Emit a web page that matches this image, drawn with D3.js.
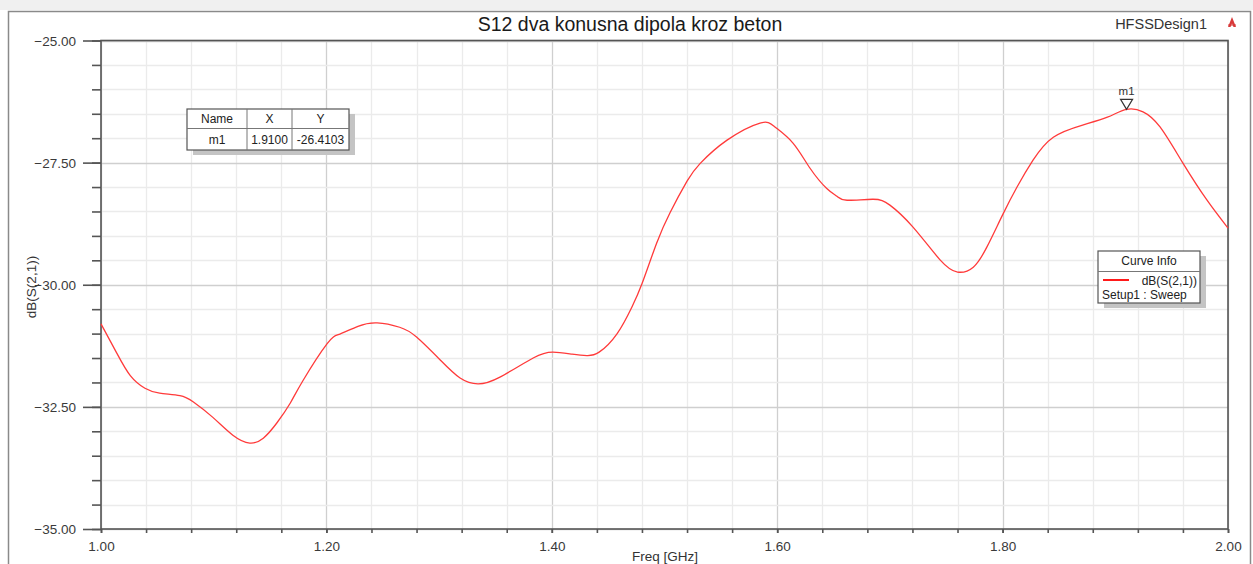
<!DOCTYPE html>
<html>
<head>
<meta charset="utf-8">
<script src="https://cdn.jsdelivr.net/npm/d3@7"></script>
<style>
  html, body { margin: 0; padding: 0; background: #ffffff; }
  svg { display: block; }
  text { font-family: "Liberation Sans", Arial, sans-serif; }
</style>
</head>
<body>
<svg id="chart" width="1253" height="564"></svg>
<script>
// S-parameter sweep, dB(S(2,1)) vs frequency
const freq = [1.000, 1.014, 1.026, 1.039, 1.052, 1.070, 1.082, 1.099, 1.117, 1.132, 1.144, 1.156, 1.168, 1.179,
  1.2005, 1.212, 1.228, 1.245, 1.265, 1.280, 1.301, 1.3186, 1.3345, 1.354, 1.3835, 1.401, 1.418, 1.431, 1.442,
  1.458, 1.471, 1.480, 1.493, 1.505, 1.520, 1.5315, 1.5555, 1.5848, 1.598, 1.614, 1.629, 1.644, 1.653, 1.662,
  1.685, 1.700, 1.7205, 1.7445, 1.760, 1.774, 1.786, 1.800, 1.8128, 1.827, 1.845, 1.871, 1.893, 1.910,
  1.9246, 1.9397, 1.960, 1.9814, 2.000];
const s21 = [-30.80, -31.40, -31.86, -32.12, -32.22, -32.27, -32.40, -32.71, -33.08, -33.24, -33.14, -32.83, -32.42, -31.97,
  -31.21, -31.01, -30.85, -30.78, -30.87, -31.07, -31.54, -31.91, -32.03, -31.89, -31.50, -31.38, -31.42, -31.45, -31.38,
  -31.00, -30.46, -29.98, -29.15, -28.52, -27.88, -27.52, -27.04, -26.69, -26.77, -27.10, -27.61, -28.03, -28.19, -28.27,
  -28.25, -28.37, -28.82, -29.49, -29.74, -29.64, -29.23, -28.57, -28.00, -27.45, -26.98, -26.73, -26.57, -26.4103,
  -26.46, -26.77, -27.51, -28.27, -28.84];

const xTicks = [1.00, 1.20, 1.40, 1.60, 1.80, 2.00];
const yTicks = [-25.00, -27.50, -30.00, -32.50, -35.00];
const markerName = "m1";
const markerX = 1.91;
const markerY = -26.4103;

const svg = d3.select("#chart");
const W = 1253, H = 564;
const plot = { left: 101, top: 40.5, right: 1228, bottom: 529 };

const x = d3.scaleLinear().domain([1.0, 2.0]).range([plot.left, plot.right]);
const y = d3.scaleLinear().domain([-35, -25]).range([plot.bottom, plot.top]);

// window background and frame
svg.append("rect").attr("x", 0).attr("y", 0).attr("width", W).attr("height", H).attr("fill", "#ffffff");
svg.append("rect").attr("x", 0).attr("y", 0).attr("width", W).attr("height", 10).attr("fill", "#f0f0f0");
svg.append("path").attr("d", `M8.5,${H} V11.5 H1250.5 V${H}`)
  .attr("fill", "none").attr("stroke", "#8a8a8a").attr("stroke-width", 1.5);

// grid
const minorX = d3.range(0, 26).map(i => 1 + i * 0.04);
const minorY = d3.range(0, 21).map(i => -35 + i * 0.5);
const grid = svg.append("g");
grid.selectAll(".gx").data(minorX).join("line")
  .attr("x1", d => Math.round(x(d)) + 0.5).attr("x2", d => Math.round(x(d)) + 0.5)
  .attr("y1", plot.top).attr("y2", plot.bottom)
  .attr("stroke", d => Math.abs((d - 1) / 0.2 - Math.round((d - 1) / 0.2)) < 1e-6 ? "#cfcfcf" : "#ebebeb")
  .attr("stroke-width", 1.3);
grid.selectAll(".gy").data(minorY).join("line")
  .attr("y1", d => Math.round(y(d)) + 0.5).attr("y2", d => Math.round(y(d)) + 0.5)
  .attr("x1", plot.left).attr("x2", plot.right)
  .attr("stroke", d => Math.abs(d / 2.5 - Math.round(d / 2.5)) < 1e-6 ? "#cfcfcf" : "#ebebeb")
  .attr("stroke-width", 1.3);

// axes
const axisColor = "#555555";
const xAxisMinor = d3.axisBottom(x).tickValues(minorX).tickSize(4).tickFormat("");
const xAxis = d3.axisBottom(x).tickValues(xTicks).tickSize(4).tickPadding(8).tickFormat(d3.format(".2f"));
const yAxisMinor = d3.axisLeft(y).tickValues(minorY).tickSize(9).tickFormat("");
const yAxis = d3.axisLeft(y).tickValues(yTicks).tickSize(18).tickPadding(7).tickFormat(d3.format(".2f"));

function styleAxis(g) {
  g.select(".domain").remove();
  g.selectAll("line").attr("stroke", axisColor).attr("stroke-width", 1.6);
  g.selectAll("text").attr("fill", "#3a3a3a").attr("font-size", 13.5)
    .attr("font-family", '"Liberation Sans", Arial, sans-serif');
}
svg.append("g").attr("transform", `translate(0,${plot.bottom})`).call(xAxisMinor).call(styleAxis);
svg.append("g").attr("transform", `translate(0,${plot.bottom})`).call(xAxis).call(styleAxis);
svg.append("g").attr("transform", `translate(${plot.left},0)`).call(yAxisMinor).call(styleAxis);
svg.append("g").attr("transform", `translate(${plot.left},0)`).call(yAxis).call(styleAxis)
  .selectAll("text").attr("dy", "0.36em");

// plot frame
svg.append("rect").attr("x", plot.left).attr("y", plot.top)
  .attr("width", plot.right - plot.left).attr("height", plot.bottom - plot.top)
  .attr("fill", "none").attr("stroke", axisColor).attr("stroke-width", 1.6);

// titles
svg.append("text").attr("x", 630).attr("y", 31).attr("text-anchor", "middle")
  .attr("font-size", 19.5).attr("fill", "#1a1a1a").text("S12 dva konusna dipola kroz beton");
svg.append("text").attr("x", 1207).attr("y", 29).attr("text-anchor", "end")
  .attr("font-size", 14.5).attr("fill", "#333").text("HFSSDesign1");
// small logo glyph
svg.append("path").attr("d", "M1232,17 L1236,27 L1233.5,27 L1232,23.5 L1230.5,27 L1228,27 Z")
  .attr("fill", "#d83a3a");
svg.append("line").attr("x1", 1228).attr("x2", 1236).attr("y1", 25).attr("y2", 25)
  .attr("stroke", "#d83a3a").attr("stroke-width", 1);

svg.append("text").attr("x", 665).attr("y", 561).attr("text-anchor", "middle")
  .attr("font-size", 13.5).attr("fill", "#333").text("Freq [GHz]");
svg.append("text").attr("transform", "translate(36,287) rotate(-90)").attr("text-anchor", "middle")
  .attr("font-size", 13.5).attr("fill", "#333").text("dB(S(2,1))");

// curve
const line = d3.line().x((d, i) => x(freq[i])).y(d => y(d)).curve(d3.curveNatural);
svg.append("path").datum(s21).attr("d", line)
  .attr("fill", "none").attr("stroke", "#ff3a3a").attr("stroke-width", 1.3);

// marker
const mx = x(markerX), my = y(markerY);
svg.append("path").attr("d", `M${mx},${my} L${mx - 6},${my - 10} L${mx + 6},${my - 10} Z`)
  .attr("fill", "#fff").attr("stroke", "#333").attr("stroke-width", 1.2);
svg.append("text").attr("x", mx).attr("y", my - 14).attr("text-anchor", "middle")
  .attr("font-size", 11.5).attr("fill", "#333").text(markerName);

// marker table
const tb = { x: 187, y: 109, w: 162, h: 41 };
svg.append("rect").attr("x", tb.x + 6).attr("y", tb.y + 5).attr("width", tb.w).attr("height", tb.h).attr("fill", "#c4c4c4");
svg.append("rect").attr("x", tb.x).attr("y", tb.y).attr("width", tb.w).attr("height", tb.h)
  .attr("fill", "#fff").attr("stroke", "#555").attr("stroke-width", 1.2);
const cols = [187, 247, 292, 349];
[247, 292].forEach(cx => svg.append("line").attr("x1", cx).attr("x2", cx).attr("y1", tb.y).attr("y2", tb.y + tb.h)
  .attr("stroke", "#777").attr("stroke-width", 1));
svg.append("line").attr("x1", tb.x).attr("x2", tb.x + tb.w).attr("y1", 128.5).attr("y2", 128.5)
  .attr("stroke", "#777").attr("stroke-width", 1);
const header = ["Name", "X", "Y"];
const row = [markerName, markerX.toFixed(4), markerY.toFixed(4)];
header.forEach((t, i) => svg.append("text").attr("x", (cols[i] + cols[i + 1]) / 2).attr("y", 123)
  .attr("text-anchor", "middle").attr("font-size", 12).attr("fill", "#222").text(t));
row.forEach((t, i) => svg.append("text").attr("x", (cols[i] + cols[i + 1]) / 2).attr("y", 143.5)
  .attr("text-anchor", "middle").attr("font-size", 12).attr("fill", "#222").text(t));

// legend
const lg = { x: 1098, y: 251, w: 102, h: 52 };
svg.append("rect").attr("x", lg.x + 6).attr("y", lg.y + 5).attr("width", lg.w).attr("height", lg.h).attr("fill", "#c4c4c4");
svg.append("rect").attr("x", lg.x).attr("y", lg.y).attr("width", lg.w).attr("height", lg.h)
  .attr("fill", "#fff").attr("stroke", "#555").attr("stroke-width", 1.2);
svg.append("line").attr("x1", lg.x).attr("x2", lg.x + lg.w).attr("y1", 271.5).attr("y2", 271.5)
  .attr("stroke", "#777").attr("stroke-width", 1);
svg.append("text").attr("x", lg.x + lg.w / 2).attr("y", 265).attr("text-anchor", "middle")
  .attr("font-size", 12).attr("fill", "#222").text("Curve Info");
svg.append("line").attr("x1", 1103).attr("x2", 1129).attr("y1", 280).attr("y2", 280)
  .attr("stroke", "#ff1a1a").attr("stroke-width", 2);
svg.append("text").attr("x", 1197).attr("y", 284.5).attr("text-anchor", "end")
  .attr("font-size", 12).attr("fill", "#222").text("dB(S(2,1))");
svg.append("text").attr("x", 1102).attr("y", 298.5)
  .attr("font-size", 12).attr("fill", "#222").text("Setup1 : Sweep");
</script>
</body>
</html>
